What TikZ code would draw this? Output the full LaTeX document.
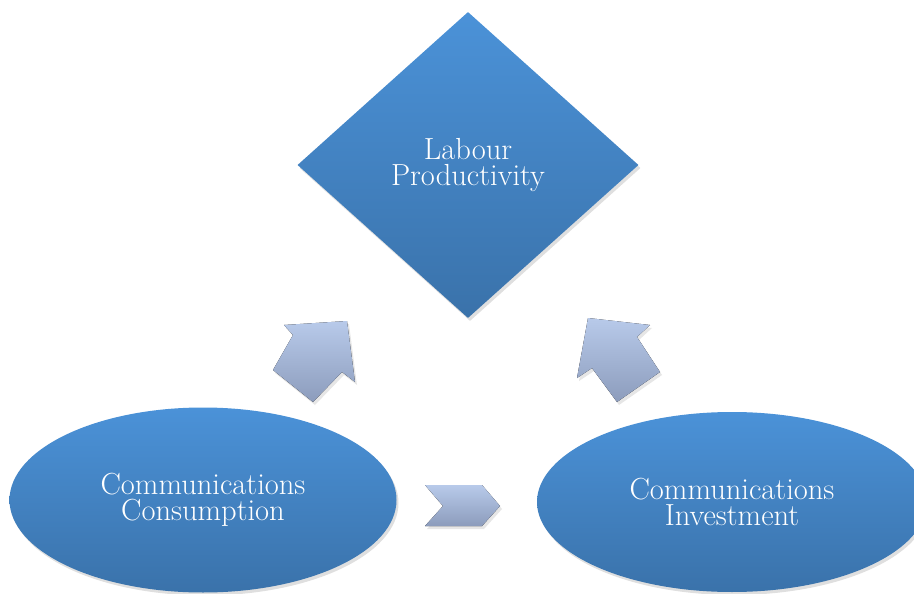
\documentclass[tikz,border=0pt]{standalone}
\usepackage{tikz}
\usetikzlibrary{shapes.geometric,shadows}
\definecolor{shapetop}{RGB}{75,146,216}
\definecolor{shapebot}{RGB}{58,114,170}
\definecolor{arrowtop}{RGB}{184,202,234}
\definecolor{arrowbot}{RGB}{140,156,188}
\tikzset{
  blob/.style={top color=shapetop, bottom color=shapebot, draw=none, inner sep=0pt,
    text=white, align=center, font=\fontsize{30.5}{26}\selectfont,
    drop shadow={opacity=0.25, shadow xshift=2pt, shadow yshift=-3pt}},
  blockarrow/.style={top color=arrowtop, bottom color=arrowbot, draw=none,
    drop shadow={opacity=0.2, shadow xshift=2pt, shadow yshift=-3pt}}
}
\begin{document}
\begin{tikzpicture}[x=1pt,y=-1pt]
\useasboundingbox (0,0) rectangle (914,594);
\node[blob, diamond, minimum width=341pt, minimum height=306pt] (labour) at (468,165) {Labour\\Productivity};
\node[blob, ellipse, minimum width=387pt, minimum height=185pt] (consumption) at (203,500) {Communications\\Consumption};
\node[blob, ellipse, minimum width=390pt, minimum height=180pt] (investment) at (732,502) {Communications\\Investment};
\fill[blockarrow] (347,321) -- (355,382) -- (342,372) -- (313,402) -- (273,370) -- (293,335) -- (284,325) -- cycle;
\fill[blockarrow] (588,318) -- (650,325) -- (637,337) -- (660,372) -- (617,402) -- (592,368) -- (577,378) -- cycle;
\fill[blockarrow] (425,485) -- (482,485) -- (500,506) -- (482,526) -- (425,526) -- (443,506) -- cycle;
\end{tikzpicture}
\end{document}
